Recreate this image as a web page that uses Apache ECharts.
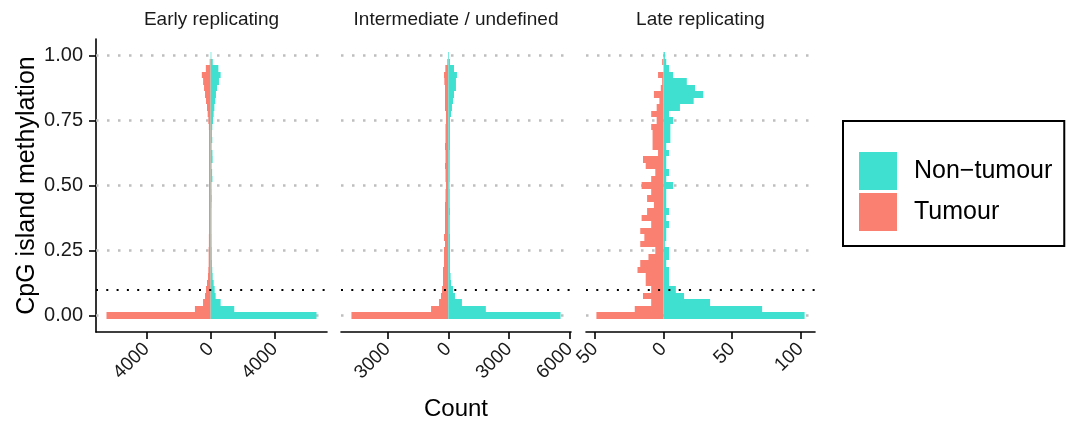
<!DOCTYPE html>
<html><head><meta charset="utf-8">
<script src="https://cdn.jsdelivr.net/npm/echarts@6/dist/echarts.min.js"></script>
<style>html,body{margin:0;padding:0;background:#fff}#c{width:1066px;height:423px}</style>
</head><body><div id="c"></div>
<script>
// ---- data ----
const methylation = [0.000,0.025,0.050,0.075,0.100,0.125,0.150,0.175,0.200,0.225,0.250,0.275,0.300,0.325,0.350,0.375,0.400,0.425,0.450,0.475,0.500,0.525,0.550,0.575,0.600,0.625,0.650,0.675,0.700,0.725,0.750,0.775,0.800,0.825,0.850,0.875,0.900,0.925,0.950,0.975,1.000];
const panelTitles = ['Early replicating', 'Intermediate / undefined', 'Late replicating'];
const seriesNames = ['Non\u2212tumour', 'Tumour'];
const earlyTumour = [6490,980,475,351,290,227,165,145,124,124,124,110,110,100,100,100,100,100,100,100,100,100,100,100,100,100,100,100,100,110,145,186,227,290,351,413,470,550,300,60,0];
const earlyNonTumour = [6594,1470,620,310,248,186,124,100,80,70,70,60,60,55,55,55,55,60,70,60,55,110,90,60,120,110,60,100,80,100,145,186,230,290,330,393,517,620,480,130,40];
const interTumour = [4785,852,459,361,311,262,262,262,213,213,213,164,213,164,164,164,164,164,140,140,115,140,140,164,140,140,164,140,140,140,115,115,164,164,164,164,197,213,148,49,0];
const interNonTumour = [5543,1853,672,328,230,131,110,82,82,82,82,82,82,70,70,70,82,70,70,70,60,70,70,70,70,70,82,82,82,82,82,131,180,230,279,377,377,426,279,82,33];
const lateTumour = [49,21,9,15,9,13,13,19,17,11,6,17,14,17,9,16,12,7,12,9,16,9,6,13,15,4,8,8,8,9,5,9,5,3,7,2,1,4,0,1,0];
const lateNonTumour = [103,72,34,15,9,4,4,4,2,4,4,1,2,2,4,2,4,2,2,2,7,2,4,2,2,4,2,5,5,5,7,4,12,22,29,23,17,7,4,2,1];
const xTicks = [[-4000,0,4000],[-3000,0,3000,6000],[-50,0,50,100]];
const yTicks = [0, 0.25, 0.50, 0.75, 1.00];
const threshold = 0.1;

// ---- layout ----
const tumourData = [earlyTumour, interTumour, lateTumour];
const nonTumourData = [earlyNonTumour, interNonTumour, lateNonTumour];
const colors = {nt: '#40E0D0', t: '#FA8072'};
const FONT = 'Liberation Sans, Arial, sans-serif';
const binHalf = 0.0125;
const grids = [
  {left: 96, width: 231, top: 39, height: 293, containLabel: false, outerBoundsMode: 'none'},
  {left: 341, width: 230, top: 39, height: 293, containLabel: false, outerBoundsMode: 'none'},
  {left: 586, width: 229, top: 39, height: 293, containLabel: false, outerBoundsMode: 'none'}
];
const yLo = -binHalf, yHi = 1 + binHalf;
const yMin = yLo - 0.05*(yHi-yLo), yMax = yHi + 0.05*(yHi-yLo);

function renderBar(params, api) {
  const v = api.value(0), y = api.value(1);
  const a = api.coord([0, y + binHalf]);
  const b = api.coord([v, y - binHalf]);
  const y1 = Math.round(a[1]), y2 = Math.round(b[1]);
  return {type: 'rect', shape: {x: Math.min(a[0], b[0]), y: y1, width: Math.abs(b[0]-a[0]), height: y2-y1},
          style: {fill: api.visual('color')}};
}

const xAxes = [], yAxes = [], series = [], graphics = [];
for (let i = 0; i < 3; i++) {
  const tMax = Math.max(...tumourData[i]), nMax = Math.max(...nonTumourData[i]);
  const lo = -tMax, hi = nMax, pad = 0.05*(hi-lo);
  xAxes.push({
    type: 'value', gridIndex: i, min: lo - pad, max: hi + pad,
    axisLine: {show: true, onZero: false, lineStyle: {color: '#000', width: 1.6}},
    axisTick: {show: true, length: 7, customValues: xTicks[i], lineStyle: {color: '#000', width: 1.6}},
    axisLabel: {customValues: xTicks[i], rotate: 45, margin: 14, fontSize: 19, fontFamily: FONT, color: '#1a1a1a',
                formatter: v => String(Math.abs(v))},
    splitLine: {show: false},
    name: i === 1 ? 'Count' : '', nameLocation: 'middle', nameGap: 65,
    nameTextStyle: {fontSize: 24, fontFamily: FONT, color: '#000'}
  });
  yAxes.push({
    type: 'value', gridIndex: i, min: yMin, max: yMax,
    axisLine: {show: i === 0, onZero: false, lineStyle: {color: '#000', width: 1.6}},
    axisTick: {show: i === 0, length: 7, customValues: yTicks, lineStyle: {color: '#000', width: 1.6}},
    axisLabel: {show: i === 0, customValues: yTicks, margin: 13, fontSize: 20, fontFamily: FONT, color: '#1a1a1a',
                formatter: v => v.toFixed(2)},
    splitLine: {show: false},
    name: i === 0 ? 'CpG island methylation' : '', nameLocation: 'middle', nameGap: 56,
    nameTextStyle: {fontSize: 25, fontFamily: FONT, color: '#000'}
  });
  // grey dotted grid lines (below bars)
  series.push({
    type: 'line', xAxisIndex: i, yAxisIndex: i, data: [], z: 1, silent: true,
    markLine: {silent: true, z: 1, symbol: 'none', label: {show: false},
      lineStyle: {color: '#BEBEBE', type: [2.5, 8.5], width: 2.6},
      data: yTicks.map(v => ({yAxis: v}))}
  });
  series.push({
    type: 'custom', name: seriesNames[1], xAxisIndex: i, yAxisIndex: i, z: 3,
    itemStyle: {color: colors.t}, renderItem: renderBar,
    data: tumourData[i].map((c, k) => [-c, methylation[k]])
  });
  series.push({
    type: 'custom', name: seriesNames[0], xAxisIndex: i, yAxisIndex: i, z: 3,
    itemStyle: {color: colors.nt}, renderItem: renderBar,
    data: nonTumourData[i].map((c, k) => [c, methylation[k]])
  });
  // black dotted threshold line (above bars)
  series.push({
    type: 'line', xAxisIndex: i, yAxisIndex: i, data: [], z: 10, silent: true,
    markLine: {silent: true, z: 10, symbol: 'none', label: {show: false},
      lineStyle: {color: '#000', type: [2, 8.3], width: 2.2},
      data: [{yAxis: threshold}]}
  });
  graphics.push({type: 'text', x: grids[i].left + grids[i].width/2, y: 20,
    style: {text: panelTitles[i], fontSize: 19, fontFamily: FONT, fill: '#1a1a1a', textAlign: 'center', textVerticalAlign: 'middle'}});
}

const chart = echarts.init(document.getElementById('c'), null, {renderer: 'canvas'});
chart.setOption({
  animation: false,
  backgroundColor: '#fff',
  grid: grids,
  xAxis: xAxes,
  yAxis: yAxes,
  series: series,
  graphic: graphics,
  legend: {
    data: seriesNames, orient: 'vertical', left: 843, top: 121,
    padding: [31, 12, 15, 16], itemWidth: 38, itemHeight: 38, itemGap: 3, icon: 'rect',
    borderColor: '#000', borderWidth: 2,
    textStyle: {fontSize: 25, fontFamily: FONT, color: '#000', padding: [0, 0, 0, 12]},
    selectedMode: false
  }
});
</script></body></html>
